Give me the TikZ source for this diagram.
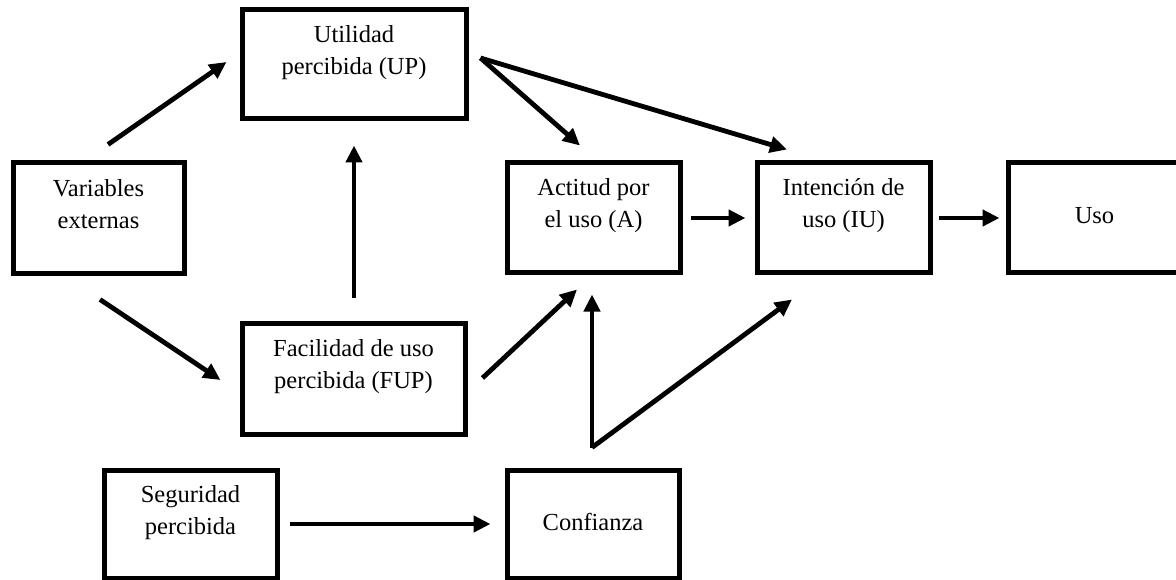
\documentclass[tikz,border=0pt]{standalone}
\usepackage{fontspec}
\setmainfont{Liberation Serif}
\usetikzlibrary{arrows.meta}
\tikzset{
  box/.style={draw, line width=5pt, inner sep=0pt, align=center,
    font=\fontsize{24.5}{32}\selectfont},
  two/.style={text height=60pt, text depth=40pt},
  one/.style={text height=17pt, text depth=5pt},
  arr/.style={line width=4.8pt, -{Triangle[length=17pt,width=16pt]}},
}
\begin{document}
\begin{tikzpicture}[x=1pt,y=-1pt]
\useasboundingbox[fill=white] (0,0) rectangle (1176,580);
\begin{scope}
\clip (0,0) rectangle (1176,580);
% boxes
\node[box,two,minimum width=171pt,minimum height=111pt] (ve)   at (98.5,218.5) {Variables\\externas};
\node[box,two,minimum width=224pt,minimum height=109pt] (up)   at (354,64.5)   {Utilidad\\percibida (UP)};
\node[box,two,minimum width=223pt,minimum height=111pt] (fup)  at (353.5,378.5){Facilidad de uso\\percibida (FUP)};
\node[box,two,minimum width=173pt,minimum height=110pt] (a)    at (593.5,218)  {Actitud por\\el uso (A)};
\node[box,two,minimum width=173pt,minimum height=110pt] (iu)   at (843.5,218)  {Intención de\\uso (IU)};
\node[box,one,minimum width=173pt,minimum height=110pt] (uso)  at (1094.5,218) {Uso};
\node[box,two,minimum width=173pt,minimum height=108pt] (seg)  at (190.5,524)  {Seguridad\\percibida};
\node[box,one,minimum width=172pt,minimum height=108pt] (conf) at (593,524)    {Confianza};
% junction points
\coordinate (upj) at ([shift={(12,-6.5)}]up.east);
\coordinate (cfj) at ([shift={(-1,-20)}]conf.north);
% connectors
\draw[arr] ([shift={(9.5,-16)}]ve.north) -- ([shift={(-13,-2.5)}]up.west);
\draw[arr] ([shift={(1.5,23)}]ve.south) -- ([shift={(-19,1.5)}]fup.west);
\draw[arr] ([shift={(0.5,-22)}]fup.north) -- ([shift={(0,24)}]up.south);
\draw[arr] (upj) -- ([shift={(-13.5,-15)}]a.north);
\draw[arr] (upj) -- ([shift={(-56.5,-11)}]iu.north);
\draw[arr] ([shift={(15,-0.5)}]fup.east) -- ([shift={(-16.5,14)}]a.south);
\draw[arr] ([shift={(8,0)}]a.east) -- ([shift={(-9,0)}]iu.west);
\draw[arr] ([shift={(6,0)}]iu.east) -- ([shift={(-6,0)}]uso.west);
\draw[arr] ([shift={(10,0)}]seg.east) -- ([shift={(-14,0)}]conf.west);
\draw[arr] (cfj) -- ([shift={(-1.5,19)}]a.south);
\draw[arr] (cfj) -- ([shift={(-51.5,24)}]iu.south);
\end{scope}
\end{tikzpicture}
\end{document}
